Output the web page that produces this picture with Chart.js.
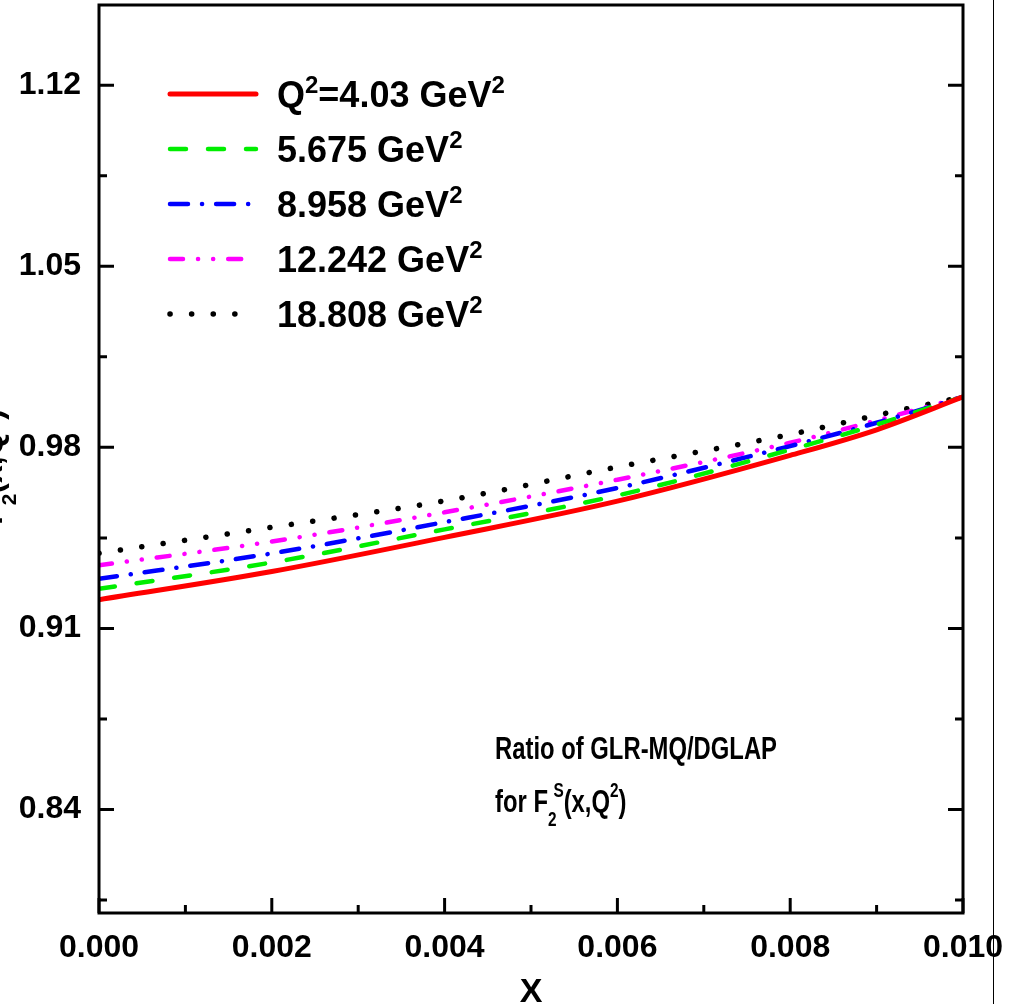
<!DOCTYPE html>
<html>
<head>
<meta charset="utf-8">
<script src="https://cdn.jsdelivr.net/npm/chart.js@4.4.1/dist/chart.umd.min.js"></script>
<style>
html, body { margin: 0; padding: 0; background: #fff; }
canvas { display: block; }
</style>
</head>
<body>
<canvas id="ratioChart" width="1020" height="1004"></canvas>
<script>
// x values
var xValues = [0, 0.002, 0.004, 0.006, 0.008, 0.009, 0.010];
// ratio GLR-MQ / DGLAP for each Q^2
var q2_4030 = [0.9211, 0.9320, 0.9452, 0.9592, 0.9769, 0.9868, 0.9995];
var q2_5675 = [0.9253, 0.9355, 0.9483, 0.9614, 0.9791, 0.9888, 0.9995];
var q2_8958 = [0.9292, 0.9390, 0.9511, 0.9643, 0.9805, 0.9895, 0.9995];
var q2_12242 = [0.9344, 0.9436, 0.9549, 0.9675, 0.9818, 0.9904, 0.9995];
var q2_18808 = [0.9391, 0.9491, 0.9593, 0.9724, 0.9850, 0.9924, 0.9995];

var xMajorTicks = [0, 0.002, 0.004, 0.006, 0.008, 0.010];
var xMinorTicks = [0.001, 0.003, 0.005, 0.007, 0.009];
var yMajorTicks = [0.84, 0.91, 0.98, 1.05, 1.12];
var yMinorTicks = [0.805, 0.875, 0.945, 1.015, 1.085];

// legend labels, [text, kind]
var legendLabels = [
	[["Q", ""], ["2", "sup"], ["=4.03 GeV", ""], ["2", "sup"]],
	[["5.675 GeV", ""], ["2", "sup"]],
	[["8.958 GeV", ""], ["2", "sup"]],
	[["12.242 GeV", ""], ["2", "sup"]],
	[["18.808 GeV", ""], ["2", "sup"]]
];
var noteLine1 = [["Ratio of GLR-MQ/DGLAP", ""]];
var noteLine2 = [["for F", ""], ["2", "sub"], ["S", "sup", -4], ["(x,Q", ""], ["2", "sup"], [")", ""]];
var yTitle = [["F", ""], ["2", "sub"], ["(x,Q", ""], ["2", "sup"], [")", ""]];

var FONT = '"Liberation Sans", Arial, sans-serif';

function toPoints(ys) {
	return xValues.map(function(x, i) { return {x: x, y: ys[i]}; });
}

function makeSet(ys, color, dash, width) {
	return {
		data: toPoints(ys),
		borderColor: color,
		borderWidth: width,
		borderDash: dash,
		borderCapStyle: 'round',
		pointRadius: 0,
		fill: false,
		cubicInterpolationMode: 'monotone'
	};
}

// draws text with sub/superscripts, returns width
function drawRich(ctx, parts, x, y, size, supRaise, measureOnly) {
	var px = x;
	parts.forEach(function(p) {
		var s = size, dy = 0;
		if (p[1] === 'sup') { s = Math.round(size * 0.66); dy = -size * supRaise; }
		if (p[1] === 'sub') { s = Math.round(size * 0.66); dy = size * 0.45; }
		ctx.font = 'bold ' + s + 'px ' + FONT;
		if (p[2]) px += p[2];
		if (!measureOnly) ctx.fillText(p[0], px, y + dy);
		px += ctx.measureText(p[0]).width;
	});
	return px - x;
}

var framePlugin = {
	id: 'frame',
	afterDraw: function(chart) {
		var ctx = chart.ctx;
		var a = chart.chartArea;
		var xs = chart.scales.x, ys = chart.scales.y;
		ctx.save();
		ctx.strokeStyle = '#000';
		ctx.fillStyle = '#000';
		ctx.setLineDash([]);
		ctx.lineCap = 'butt';

		// inward ticks
		ctx.lineWidth = 3;
		function yTick(v, len) {
			var py = ys.getPixelForValue(v);
			ctx.beginPath();
			ctx.moveTo(a.left, py); ctx.lineTo(a.left + len, py);
			ctx.moveTo(a.right, py); ctx.lineTo(a.right - len, py);
			ctx.stroke();
		}
		function xTick(v, len) {
			var px = xs.getPixelForValue(v);
			ctx.beginPath();
			ctx.moveTo(px, a.bottom); ctx.lineTo(px, a.bottom - len);
			ctx.stroke();
		}
		yMajorTicks.forEach(function(v) { yTick(v, 15); });
		yMinorTicks.forEach(function(v) { yTick(v, 8); });
		xMajorTicks.forEach(function(v) { xTick(v, 15); });
		xMinorTicks.forEach(function(v) { xTick(v, 8); });

		// frame
		ctx.lineWidth = 3;
		ctx.strokeRect(a.left, a.top, a.right - a.left, a.bottom - a.top);

		// stray vertical line at right
		ctx.lineWidth = 1;
		ctx.beginPath();
		ctx.moveTo(993.5, 0); ctx.lineTo(993.5, 1004);
		ctx.stroke();

		// legend
		var rows = [94, 149, 204, 259, 314];
		ctx.textBaseline = 'alphabetic';
		ctx.textAlign = 'left';
		chart.data.datasets.forEach(function(ds, i) {
			ctx.save();
			ctx.strokeStyle = ds.borderColor;
			ctx.lineWidth = ds.borderWidth;
			ctx.lineCap = 'round';
			ctx.setLineDash(ds.borderDash);
			ctx.beginPath();
			ctx.moveTo(170, rows[i]); ctx.lineTo(256, rows[i]);
			ctx.stroke();
			ctx.restore();
			drawRich(ctx, legendLabels[i], 277, rows[i] + 13, 36, 0.4);
		});

		// note text, squeezed like the original
		var w1 = drawRich(ctx, noteLine1, 0, 0, 31, 0.5, true);
		var sx = 282 / w1;
		ctx.save();
		ctx.translate(495, 759);
		ctx.scale(sx, 1);
		drawRich(ctx, noteLine1, 0, 0, 31, 0.5);
		ctx.restore();
		ctx.save();
		ctx.translate(495, 812);
		ctx.scale(sx, 1);
		drawRich(ctx, noteLine2, 0, 0, 31, 0.5);
		ctx.restore();

		// x axis title
		ctx.font = 'bold 34px ' + FONT;
		ctx.textAlign = 'center';
		ctx.fillText('X', (a.left + a.right) / 2, 1002);

		// y axis title, mostly cut off at the left edge
		ctx.textAlign = 'left';
		var wt = drawRich(ctx, yTitle, 0, 0, 32, 0.45, true);
		ctx.save();
		ctx.translate(2, 467);
		ctx.rotate(-Math.PI / 2);
		drawRich(ctx, yTitle, -wt / 2, 0, 32, 0.45);
		ctx.restore();

		ctx.restore();
	}
};

var ctx = document.getElementById('ratioChart').getContext('2d');
var ratioChart = new Chart(ctx, {
	type: 'line',
	data: {
		datasets: [
			makeSet(q2_4030, '#ff0000', [], 5),
			makeSet(q2_5675, '#00ee00', [16, 22], 4.5),
			makeSet(q2_8958, '#0000ff', [18, 14, 0.1, 14], 4.5),
			makeSet(q2_12242, '#ff00ff', [13, 15, 0.1, 15, 0.1, 15], 4.5),
			makeSet(q2_18808, '#000000', [0.1, 21.5], 5.5)
		]
	},
	options: {
		responsive: false,
		devicePixelRatio: 1,
		animation: false,
		layout: {padding: {top: 5, right: 57, left: 0, bottom: 0}},
		plugins: {
			legend: {display: false},
			tooltip: {enabled: false}
		},
		scales: {
			x: {
				type: 'linear',
				min: 0,
				max: 0.01,
				grid: {display: false},
				border: {display: false},
				afterBuildTicks: function(scale) {
					scale.ticks = xMajorTicks.map(function(v) { return {value: v}; });
				},
				afterFit: function(scale) {
					scale.height = 91;
					scale.paddingLeft = 0;
					scale.paddingRight = 0;
				},
				ticks: {
					color: '#000',
					font: {family: FONT, size: 32, weight: 'bold'},
					padding: 8,
					maxRotation: 0,
					autoSkip: false,
					callback: function(v) { return Number(v).toFixed(3); }
				}
			},
			y: {
				min: 0.8,
				max: 1.151,
				grid: {display: false},
				border: {display: false},
				afterBuildTicks: function(scale) {
					scale.ticks = yMajorTicks.map(function(v) { return {value: v}; });
				},
				afterFit: function(scale) {
					scale.width = 99;
					scale.paddingTop = 0;
					scale.paddingBottom = 0;
				},
				ticks: {
					color: '#000',
					font: {family: FONT, size: 32, weight: 'bold'},
					padding: 10,
					autoSkip: false,
					callback: function(v) { return Number(v).toFixed(2); }
				}
			}
		}
	},
	plugins: [framePlugin]
});
</script>
</body>
</html>
